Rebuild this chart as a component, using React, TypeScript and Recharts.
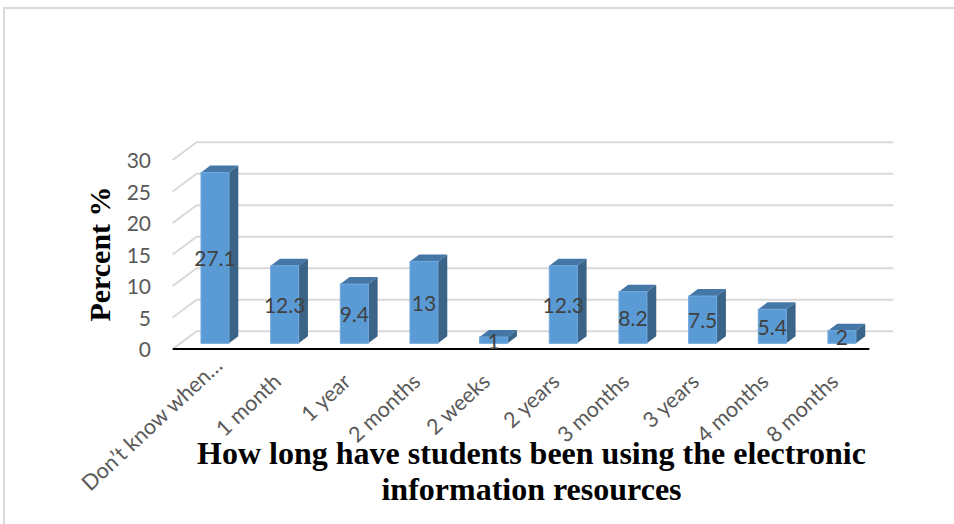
import { BarChart, Bar, XAxis, YAxis, CartesianGrid, LabelList } from "recharts";

const categories = [
  "Don’t know when…",
  "1 month",
  "1 year",
  "2 months",
  "2 weeks",
  "2 years",
  "3 months",
  "3 years",
  "4 months",
  "8 months",
];
const percents = [27.1, 12.3, 9.4, 13, 1, 12.3, 8.2, 7.5, 5.4, 2];
const yTicks = [0, 5, 10, 15, 20, 25, 30];

const data = categories.map((name, i) => ({ name, percent: percents[i] }));

const LABEL_FONT = "Lato, 'Open Sans', sans-serif";
const TITLE_FONT = "'Liberation Serif', 'Times New Roman', serif";

// extrusion of each bar
const BAR_DX = 9.3;
const BAR_DY = 7;
// offsets of the floor's front edge and the back wall from the bar plane
const FRONT_DX = -7.3;
const FRONT_DY = 5.7;
const BACK_DX = 16.6;
const BACK_DY = -12;

function Bar3D({ x = 0, y = 0, width = 0, height = 0 }: any) {
  const r = x + width;
  const b = y + height;
  return (
    <g>
      <polygon
        points={`${x},${y} ${x + BAR_DX},${y - BAR_DY} ${r + BAR_DX},${y - BAR_DY} ${r},${y}`}
        fill="#4476A6"
      />
      <polygon
        points={`${r},${y} ${r + BAR_DX},${y - BAR_DY} ${r + BAR_DX},${b - BAR_DY} ${r},${b}`}
        fill="#3A6589"
      />
      <rect x={x} y={y} width={width} height={height} fill="#5B9BD5" stroke="#6FA8DC" strokeWidth={1} />
    </g>
  );
}

// wall line plus the slanted piece running to the front of the floor
function GridLine({ x1, x2, y1 }: any) {
  const isFloor = Math.abs(y1 - 343.3) < 1;
  return (
    <g>
      <polyline
        points={`${x1 + FRONT_DX},${y1 + FRONT_DY} ${x1 + BACK_DX},${y1 + BACK_DY} ${x2 + BACK_DX},${y1 + BACK_DY}`}
        fill="none"
        stroke="#D9D9D9"
        strokeWidth={2}
      />
      {isFloor && (
        <line
          x1={x1 + FRONT_DX}
          x2={x2 + FRONT_DX}
          y1={y1 + FRONT_DY}
          y2={y1 + FRONT_DY}
          stroke="#000000"
          strokeWidth={2.2}
        />
      )}
    </g>
  );
}

function ValueTick({ x, y, payload }: any) {
  return (
    <text x={x - 27} y={y + FRONT_DY + 8} textAnchor="end" fontFamily={LABEL_FONT} fontSize={21} fill="#595959">
      {payload.value}
    </text>
  );
}

function CategoryTick({ x, y, payload, index }: any) {
  // the long first label sits further along its slant
  const tx = index === 0 ? x + 9 : x - 2;
  const ty = index === 0 ? y + 22 : y + 38;
  return (
    <text
      x={tx}
      y={ty}
      textAnchor="end"
      transform={`rotate(-43 ${tx} ${ty})`}
      fontFamily={LABEL_FONT}
      fontSize={21.5}
      fill="#595959"
    >
      {payload.value}
    </text>
  );
}

export default function App() {
  return (
    <div style={{ position: "absolute", left: 0, top: 0, width: 954, height: 524, background: "#fff" }}>
      <div
        style={{
          position: "absolute",
          left: 3,
          top: 7,
          right: 0,
          bottom: 0,
          borderTop: "2px solid #D9D9D9",
          borderLeft: "2px solid #D9D9D9",
        }}
      />
      <BarChart
        width={954}
        height={524}
        data={data}
        margin={{ top: 154.3, right: 77.4, bottom: 120.7, left: 120 }}
        style={{ position: "absolute", left: 0, top: 0 }}
      >
        <CartesianGrid vertical={false} horizontal={(props: any) => <GridLine key={props.index} {...props} />} />
        <XAxis
          dataKey="name"
          height={60}
          interval={0}
          axisLine={false}
          tickLine={false}
          tickSize={0}
          tick={<CategoryTick />}
        />
        <YAxis
          width={60}
          domain={[0, 30]}
          ticks={yTicks}
          axisLine={false}
          tickLine={false}
          tickSize={0}
          tick={<ValueTick />}
        />
        <Bar dataKey="percent" barSize={28} shape={<Bar3D />} isAnimationActive={false}>
          <LabelList
            dataKey="percent"
            position="center"
            fontFamily={LABEL_FONT}
            fontSize={21}
            fill="#404040"
            dy={1}
          />
        </Bar>
        <text
          transform="translate(109.5 254) rotate(-90)"
          textAnchor="middle"
          fontFamily={TITLE_FONT}
          fontWeight="bold"
          fontSize={30}
          fill="#000"
        >
          Percent %
        </text>
        <text x={531.5} y={464} textAnchor="middle" fontFamily={TITLE_FONT} fontWeight="bold" fontSize={32} fill="#000">
          How long have students been using the electronic
        </text>
        <text x={531.5} y={500} textAnchor="middle" fontFamily={TITLE_FONT} fontWeight="bold" fontSize={32} fill="#000">
          information resources
        </text>
      </BarChart>
    </div>
  );
}
